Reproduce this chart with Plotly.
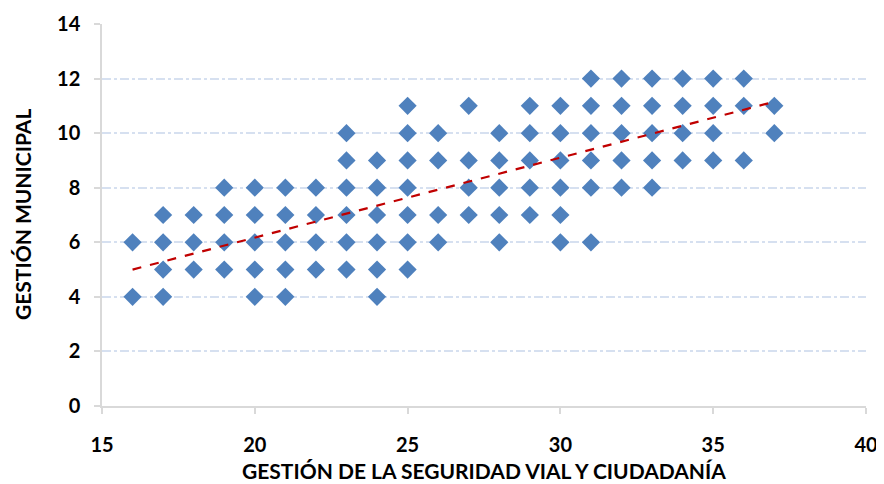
import plotly.graph_objects as go

# Data (x = Gestión de la seguridad vial y ciudadanía, y = Gestión municipal)
columns = {
    16: [6, 4],
    17: [7, 6, 5, 4],
    18: [7, 6, 5],
    19: [8, 7, 6, 5],
    20: [8, 7, 6, 5, 4],
    21: [8, 7, 6, 5, 4],
    22: [8, 7, 6, 5],
    23: [10, 9, 8, 7, 6, 5],
    24: [9, 8, 7, 6, 5, 4],
    25: [11, 10, 9, 8, 7, 6, 5],
    26: [10, 9, 7, 6],
    27: [11, 9, 8, 7],
    28: [10, 9, 8, 7, 6],
    29: [11, 10, 9, 8, 7],
    30: [11, 10, 9, 8, 7, 6],
    31: [12, 11, 10, 9, 8, 6],
    32: [12, 11, 10, 9, 8],
    33: [12, 11, 10, 9, 8],
    34: [12, 11, 10, 9],
    35: [12, 11, 10, 9],
    36: [12, 11, 9],
    37: [11, 10],
}
x_vals = [x for x, ys in columns.items() for _ in ys]
y_vals = [y for ys in columns.values() for y in ys]

trend_x = [16, 37]
trend_y = [5.0, 11.15]

x_ticks = [15, 20, 25, 30, 35, 40]
y_ticks = [0, 2, 4, 6, 8, 10, 12, 14]

x_title = "GESTIÓN DE LA SEGURIDAD VIAL Y CIUDADANÍA"
y_title = "GESTIÓN MUNICIPAL"

fig = go.Figure()
fig.add_trace(go.Scatter(
    x=x_vals, y=y_vals, mode="markers",
    marker=dict(symbol="diamond", size=14, color="#4F81BD", line=dict(width=0)),
    showlegend=False, hoverinfo="x+y",
))
fig.add_trace(go.Scatter(
    x=trend_x, y=trend_y, mode="lines",
    line=dict(color="#C00000", width=2.2, dash="dash"),
    showlegend=False, hoverinfo="skip",
))

font_family = "Lato, 'Open Sans', sans-serif"
# the page body has an 8px margin, so the figure is sized/offset to compensate
fig.update_layout(
    width=876, height=476,
    margin=dict(l=94, r=18, t=16, b=78),
    paper_bgcolor="white", plot_bgcolor="white",
    font=dict(family=font_family, color="black"),
    annotations=[
        dict(text="<b>" + x_title + "</b>", xref="paper", yref="paper",
             x=0.5, y=0, yshift=-64, xanchor="center", yanchor="middle",
             showarrow=False, font=dict(size=21, family=font_family, color="black")),
        dict(text="<b>" + y_title + "</b>", xref="paper", yref="paper",
             x=0, y=0.5, xshift=-80, xanchor="center", yanchor="middle",
             textangle=-90, showarrow=False,
             font=dict(size=21, family=font_family, color="black")),
    ],
)
fig.update_xaxes(
    range=[15, 40], tickvals=x_ticks, ticktext=[str(v) for v in x_ticks],
    showgrid=False, zeroline=False, automargin=False,
    showline=True, linecolor="#D9D9D9", linewidth=1.5,
    ticks="outside", ticklen=6, tickcolor="#D9D9D9", tickwidth=1.5,
    ticklabelstandoff=14,
    tickfont=dict(size=20, family=font_family, weight="bold"),
)
fig.update_yaxes(
    range=[0, 14], tickvals=y_ticks, ticktext=[str(v) for v in y_ticks],
    showgrid=True, gridcolor="#D6E0F0", gridwidth=1.5, griddash="dashdot",
    zeroline=False, automargin=False,
    showline=True, linecolor="#D9D9D9", linewidth=1.5,
    ticks="outside", ticklen=6, tickcolor="#D9D9D9", tickwidth=1.5,
    ticklabelstandoff=10,
    tickfont=dict(size=20, family=font_family, weight="bold"),
)

fig.write_html("out.html")
